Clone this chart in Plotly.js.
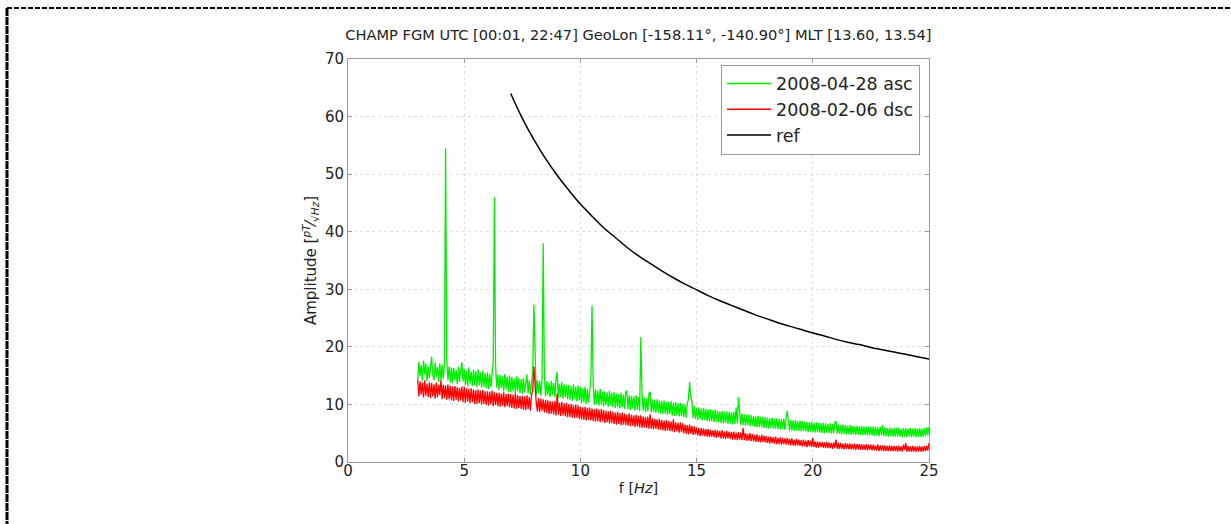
<!DOCTYPE html>
<html>
<head>
<meta charset="utf-8">
<script src="https://cdn.plot.ly/plotly-3.0.1.min.js"></script>
<style>
html,body{margin:0;padding:0;background:#fff;}
#chart{width:1231px;height:524px;}
</style>
</head>
<body>
<div id="chart"></div>
<script>
// Frequency grid (Hz) for the two spectra
const freq = [
3.00,3.05,3.10,3.15,3.20,3.25,3.30,3.35,3.40,3.45,
3.50,3.55,3.60,3.65,3.70,3.75,3.80,3.85,3.90,3.95,
4.00,4.05,4.10,4.15,4.20,4.25,4.30,4.35,4.40,4.45,
4.50,4.55,4.60,4.65,4.70,4.75,4.80,4.85,4.90,4.95,
5.00,5.05,5.10,5.15,5.20,5.25,5.30,5.35,5.40,5.45,
5.50,5.55,5.60,5.65,5.70,5.75,5.80,5.85,5.90,5.95,
6.00,6.05,6.10,6.15,6.20,6.25,6.30,6.35,6.40,6.45,
6.50,6.55,6.60,6.65,6.70,6.75,6.80,6.85,6.90,6.95,
7.00,7.05,7.10,7.15,7.20,7.25,7.30,7.35,7.40,7.45,
7.50,7.55,7.60,7.65,7.70,7.75,7.80,7.85,7.90,7.95,
8.00,8.05,8.10,8.15,8.20,8.25,8.30,8.35,8.40,8.45,
8.50,8.55,8.60,8.65,8.70,8.75,8.80,8.85,8.90,8.95,
9.00,9.05,9.10,9.15,9.20,9.25,9.30,9.35,9.40,9.45,
9.50,9.55,9.60,9.65,9.70,9.75,9.80,9.85,9.90,9.95,
10.00,10.05,10.10,10.15,10.20,10.25,10.30,10.35,10.40,10.45,
10.50,10.55,10.60,10.65,10.70,10.75,10.80,10.85,10.90,10.95,
11.00,11.05,11.10,11.15,11.20,11.25,11.30,11.35,11.40,11.45,
11.50,11.55,11.60,11.65,11.70,11.75,11.80,11.85,11.90,11.95,
12.00,12.05,12.10,12.15,12.20,12.25,12.30,12.35,12.40,12.45,
12.50,12.55,12.60,12.65,12.70,12.75,12.80,12.85,12.90,12.95,
13.00,13.05,13.10,13.15,13.20,13.25,13.30,13.35,13.40,13.45,
13.50,13.55,13.60,13.65,13.70,13.75,13.80,13.85,13.90,13.95,
14.00,14.05,14.10,14.15,14.20,14.25,14.30,14.35,14.40,14.45,
14.50,14.55,14.60,14.65,14.70,14.75,14.80,14.85,14.90,14.95,
15.00,15.05,15.10,15.15,15.20,15.25,15.30,15.35,15.40,15.45,
15.50,15.55,15.60,15.65,15.70,15.75,15.80,15.85,15.90,15.95,
16.00,16.05,16.10,16.15,16.20,16.25,16.30,16.35,16.40,16.45,
16.50,16.55,16.60,16.65,16.70,16.75,16.80,16.85,16.90,16.95,
17.00,17.05,17.10,17.15,17.20,17.25,17.30,17.35,17.40,17.45,
17.50,17.55,17.60,17.65,17.70,17.75,17.80,17.85,17.90,17.95,
18.00,18.05,18.10,18.15,18.20,18.25,18.30,18.35,18.40,18.45,
18.50,18.55,18.60,18.65,18.70,18.75,18.80,18.85,18.90,18.95,
19.00,19.05,19.10,19.15,19.20,19.25,19.30,19.35,19.40,19.45,
19.50,19.55,19.60,19.65,19.70,19.75,19.80,19.85,19.90,19.95,
20.00,20.05,20.10,20.15,20.20,20.25,20.30,20.35,20.40,20.45,
20.50,20.55,20.60,20.65,20.70,20.75,20.80,20.85,20.90,20.95,
21.00,21.05,21.10,21.15,21.20,21.25,21.30,21.35,21.40,21.45,
21.50,21.55,21.60,21.65,21.70,21.75,21.80,21.85,21.90,21.95,
22.00,22.05,22.10,22.15,22.20,22.25,22.30,22.35,22.40,22.45,
22.50,22.55,22.60,22.65,22.70,22.75,22.80,22.85,22.90,22.95,
23.00,23.05,23.10,23.15,23.20,23.25,23.30,23.35,23.40,23.45,
23.50,23.55,23.60,23.65,23.70,23.75,23.80,23.85,23.90,23.95,
24.00,24.05,24.10,24.15,24.20,24.25,24.30,24.35,24.40,24.45,
24.50,24.55,24.60,24.65,24.70,24.75,24.80,24.85,24.90,24.95,
25.00];

// 2008-04-28 asc amplitude (pT/sqrt(Hz))
const ascAmp = [
14.3,17.4,14.9,16.8,14.1,17.6,15.2,17.1,14.0,16.6,
14.6,17.0,18.3,15.1,14.2,17.3,14.8,16.5,13.9,17.1,
14.1,16.9,14.5,17.2,54.5,17.6,14.2,16.6,13.8,16.4,
13.7,16.3,14.2,16.0,13.5,16.5,13.9,16.1,17.3,14.0,
16.2,13.4,15.9,13.1,16.4,13.6,15.7,13.2,16.0,13.3,
15.8,13.0,16.1,13.3,15.6,12.9,15.9,13.1,15.4,12.8,
15.6,12.7,15.3,13.0,15.9,17.4,46.0,16.8,12.9,15.2,
12.5,15.1,12.8,14.9,12.3,15.3,12.6,14.8,12.2,15.0,
12.1,14.8,12.4,14.5,11.9,14.9,12.3,14.6,12.0,14.4,
11.8,14.6,12.1,14.3,15.2,11.9,14.2,11.7,14.5,16.0,
27.3,15.8,11.6,14.2,11.9,14.0,11.5,14.6,38.0,15.1,
11.4,14.0,11.7,13.8,11.3,14.1,11.6,13.7,11.2,14.3,
15.6,11.1,13.6,11.3,13.9,11.0,13.5,11.2,13.4,10.9,
13.4,10.8,13.2,10.6,13.5,10.9,13.1,10.5,13.3,10.7,
13.0,10.2,12.8,10.4,13.1,10.1,12.7,10.3,12.9,14.2,
27.2,13.8,9.9,12.6,10.1,12.4,9.8,12.7,10.0,12.3,
9.7,12.3,9.9,12.1,9.6,12.4,9.8,12.0,9.5,12.2,
9.4,11.9,9.6,11.8,9.3,12.0,9.5,11.7,9.2,12.1,
12.4,9.2,11.6,9.0,11.5,9.3,11.4,8.9,11.6,9.1,
11.3,8.8,21.7,12.2,8.9,11.2,8.7,11.1,8.8,11.9,
12.2,8.6,10.9,8.7,10.8,8.5,10.9,8.6,10.7,8.4,
10.6,8.3,10.7,8.4,10.5,8.2,10.4,8.3,10.6,8.1,
10.3,8.0,10.4,8.1,10.2,7.9,10.3,8.0,10.1,7.8,
10.0,7.7,10.2,11.0,13.9,11.2,10.6,7.6,9.7,7.5,
9.4,7.3,9.5,7.4,9.3,7.2,9.4,7.3,9.2,7.1,
9.1,7.0,9.2,7.1,9.0,6.9,9.1,7.0,8.9,6.9,
8.8,6.8,8.9,6.7,8.7,6.8,8.8,6.6,8.7,6.7,
8.6,6.5,8.7,6.6,9.5,6.7,11.3,8.8,6.5,8.4,
6.4,8.3,6.3,8.2,6.4,8.3,6.2,8.1,6.3,8.0,
6.1,7.9,6.0,8.0,6.1,7.8,6.0,7.9,5.9,7.8,
5.9,7.7,5.8,7.6,5.9,7.7,5.8,7.5,5.8,7.6,
5.7,7.5,5.6,7.4,5.7,7.5,5.6,7.6,8.9,7.0,
5.5,7.3,5.5,7.2,5.4,7.3,5.5,7.1,5.4,7.2,
5.3,7.1,5.4,7.0,5.3,7.0,5.2,6.9,5.3,7.0,
5.2,6.8,5.1,6.9,5.2,6.8,5.1,6.7,5.0,6.8,
5.0,6.7,5.1,6.6,5.0,6.7,4.9,6.6,5.0,6.9,
7.1,4.9,6.5,4.9,6.4,4.8,6.5,4.9,6.4,4.8,
6.3,4.8,6.4,4.7,6.3,4.8,6.2,4.7,6.3,4.7,
6.2,4.7,6.3,4.6,6.2,4.7,6.1,4.6,6.2,4.6,
6.1,4.6,6.2,4.5,6.1,4.6,6.0,4.5,6.1,4.7,
6.4,4.5,6.0,4.5,5.9,4.4,6.0,4.5,5.9,4.4,
5.9,4.4,6.0,4.4,5.9,4.4,5.8,4.3,5.9,4.4,
5.9,4.3,5.8,4.4,5.9,4.3,5.8,4.4,5.9,4.3,
5.8,4.4,5.9,4.3,5.8,4.4,5.9,4.5,6.0,4.6,
6.1];

// 2008-02-06 dsc amplitude (pT/sqrt(Hz))
const dscAmp = [
14.3,11.4,14.0,11.7,13.8,11.2,14.2,11.5,13.6,11.3,
13.9,11.1,13.7,11.4,13.5,11.0,13.8,11.2,13.4,11.6,
14.2,10.9,13.4,11.1,13.3,10.8,13.5,10.9,13.2,10.7,
13.1,10.6,13.2,10.8,13.0,10.5,12.9,10.7,13.1,10.4,
13.1,10.3,12.8,10.5,12.7,10.2,12.8,10.4,12.6,10.1,
12.5,10.1,12.6,10.2,12.4,10.0,12.5,10.1,12.3,9.9,
12.3,9.8,12.2,10.0,12.4,9.7,12.1,9.9,12.0,9.7,
12.0,9.6,11.9,9.8,12.1,9.5,11.8,9.7,11.9,9.5,
11.8,9.4,11.7,9.3,11.9,9.2,11.6,9.4,11.5,9.2,
11.5,9.1,11.4,9.0,11.6,9.2,11.3,8.9,11.7,12.4,
16.6,12.9,10.3,8.8,11.1,8.7,11.0,8.9,10.9,8.6,
10.8,8.5,10.7,8.3,10.6,8.4,10.5,8.2,10.6,8.1,
11.9,8.2,10.3,8.0,10.4,8.1,10.2,7.9,10.3,7.8,
10.0,7.8,10.1,7.7,9.9,7.6,10.0,7.7,9.8,7.5,
9.6,7.4,9.5,7.3,9.6,7.2,9.4,7.3,9.5,7.2,
9.3,7.1,9.2,7.0,9.3,7.1,9.1,6.9,9.2,7.0,
9.0,6.8,8.9,6.9,8.8,6.7,8.9,6.8,8.7,6.6,
8.6,6.5,8.7,6.6,8.5,6.4,8.6,6.5,8.4,6.4,
8.3,6.3,8.4,6.2,8.2,6.3,8.1,6.1,8.2,6.2,
8.0,6.0,8.1,5.9,7.9,6.0,7.8,5.9,7.9,5.8,
8.3,5.8,7.6,5.7,7.5,5.8,7.4,5.6,7.5,5.6,
7.3,5.5,7.2,5.4,7.3,5.5,7.1,5.4,7.0,5.3,
7.4,5.2,6.9,5.3,6.8,5.1,6.9,5.2,6.7,5.0,
6.5,4.9,6.4,4.8,6.5,4.9,6.3,4.7,6.2,4.8,
6.0,4.6,5.9,4.5,5.9,4.6,5.8,4.5,5.7,4.4,
5.7,4.3,5.6,4.4,5.5,4.3,5.6,4.2,5.5,4.3,
5.4,4.1,5.5,4.1,5.3,4.0,5.4,4.1,5.3,4.0,
5.2,3.9,5.3,3.9,5.1,3.8,5.2,3.9,5.1,3.8,
5.9,3.8,5.0,3.7,4.9,3.7,5.0,3.6,4.9,3.6,
4.7,3.5,4.8,3.5,4.6,3.4,4.7,3.5,4.6,3.4,
4.5,3.3,4.4,3.2,4.4,3.3,4.3,3.2,4.4,3.1,
4.2,3.1,4.3,3.0,4.2,3.1,4.1,3.0,4.2,3.0,
4.0,2.9,4.1,2.9,3.9,2.8,4.0,2.9,3.9,2.8,
3.8,2.7,3.9,2.7,3.7,2.6,3.8,2.7,3.7,2.6,
4.2,2.6,3.6,2.5,3.6,2.5,3.5,2.6,3.5,2.5,
3.4,2.4,3.5,2.4,3.4,2.4,3.3,2.3,3.4,2.4,
3.9,2.3,3.3,2.3,3.3,2.3,3.2,2.2,3.3,2.3,
3.2,2.2,3.2,2.2,3.1,2.2,3.2,2.1,3.1,2.2,
3.1,2.1,3.1,2.1,3.0,2.1,3.1,2.0,3.0,2.1,
3.0,2.0,3.0,2.0,2.9,2.0,3.0,1.9,2.9,2.0,
2.9,1.9,2.9,1.9,2.8,1.9,2.9,1.9,2.8,1.9,
2.8,1.9,2.8,1.8,2.8,1.9,2.7,1.8,3.0,2.1,
3.3,1.8,2.8,1.8,2.7,1.8,2.8,1.8,2.7,1.8,
2.7,1.8,2.8,1.8,2.7,1.8,2.8,1.9,2.8,2.0,
3.3];

// reference curve
const refFreq = [7.0,7.5,8.0,8.5,9.0,9.5,10.0,10.5,11.0,11.5,12.0,12.5,13.0,13.5,14.0,14.5,15.0,15.5,16.0,16.5,17.0,17.5,18.0,18.5,19.0,19.5,20.0,20.5,21.0,21.5,22.0,22.5,23.0,23.5,24.0,24.5,25.0];
const refAmp = [64.0,59.7,56.0,52.7,49.8,47.2,44.8,42.7,40.7,39.0,37.3,35.8,34.5,33.2,32.0,30.9,29.9,28.9,28.0,27.2,26.4,25.6,24.9,24.2,23.6,23.0,22.4,21.9,21.3,20.8,20.4,19.9,19.5,19.1,18.7,18.3,17.9];

const seriesNames = ['2008-04-28 asc','2008-02-06 dsc','ref'];
const xTicks = [0,5,10,15,20,25];
const yTicks = [0,10,20,30,40,50,60,70];

const FONT = 'DejaVu Sans, Liberation Sans, sans-serif';

const traces = [
  {x: freq, y: ascAmp, name: seriesNames[0], type: 'scatter', mode: 'lines',
   line: {color: '#00ee00', width: 1.3}},
  {x: freq, y: dscAmp, name: seriesNames[1], type: 'scatter', mode: 'lines',
   line: {color: '#ff0000', width: 1.3}},
  {x: refFreq, y: refAmp, name: seriesNames[2], type: 'scatter', mode: 'lines',
   line: {color: '#000000', width: 1.5, shape: 'spline'}}
];

const axisCommon = {
  showline: true, linecolor: '#999', linewidth: 1, mirror: 'ticks',
  ticks: 'inside', ticklen: 4, tickcolor: '#999',
  showgrid: true, gridcolor: '#e0e0e0', griddash: 'dot', gridwidth: 1,
  zeroline: false,
  tickfont: {family: FONT, size: 15, color: '#222'}
};

const layout = {
  width: 1231, height: 524,
  margin: {l: 348, r: 302, t: 59, b: 62},
  paper_bgcolor: '#fff', plot_bgcolor: '#fff',
  showlegend: true,
  title: {text: 'CHAMP FGM UTC [00:01, 22:47] GeoLon [-158.11°, -140.90°] MLT [13.60, 13.54]',
          font: {family: FONT, size: 14.6, color: '#222'},
          x: 0.5186, xanchor: 'center', y: 1 - 35/524, yanchor: 'middle'},
  xaxis: Object.assign({}, axisCommon, {
    range: [0, 25], tickvals: xTicks, ticktext: xTicks.map(String),
    ticklabelstandoff: -5,
    title: {text: 'f [<i>Hz</i>]', font: {family: FONT, size: 14.5, color: '#222'}, standoff: 3}
  }),
  yaxis: Object.assign({}, axisCommon, {
    range: [0, 70], tickvals: yTicks, ticktext: yTicks.map(String),
    title: {text: 'Amplitude [<sup><i>pT</i></sup>⁄<sub>√<i>Hz</i></sub>]', font: {family: FONT, size: 15, color: '#222'}, standoff: 4}
  }),
  legend: {
    x: 0.9845, xanchor: 'right', y: 0.986, yanchor: 'top',
    bgcolor: '#fff', bordercolor: '#999', borderwidth: 1,
    font: {family: FONT, size: 17.5, color: '#222'},
    itemwidth: 44, tracegroupgap: 0
  },
  shapes: [
    {type: 'line', xref: 'paper', yref: 'paper', x0: -0.5869, x1: 1.55, y0: 1.1266, y1: 1.1266,
     line: {color: '#000', width: 2, dash: '5px,2px'}},
    {type: 'line', xref: 'paper', yref: 'paper', x0: -0.5869, x1: -0.5869, y0: 1.1266, y1: -0.2,
     line: {color: '#000', width: 3, dash: '8px,1px'}}
  ]
};

Plotly.newPlot('chart', traces, layout, {displayModeBar: false, staticPlot: true});
</script>
</body>
</html>
